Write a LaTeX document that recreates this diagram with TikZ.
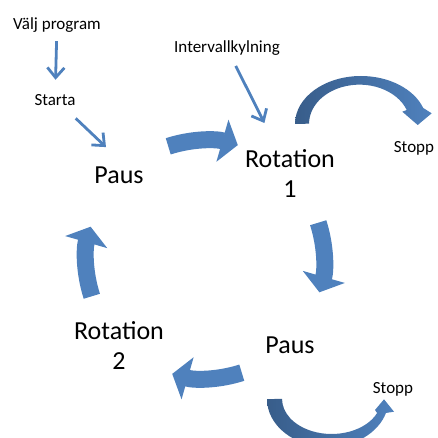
\documentclass[tikz,border=0pt]{standalone}
\usepackage{fontspec}
\setmainfont{Carlito}
\usepackage{xcolor}
\usetikzlibrary{arrows.meta, positioning, calc}
\definecolor{cycblue}{HTML}{4F81BD}
\definecolor{cycdark}{HTML}{385D8A}

\begin{document}
\begin{tikzpicture}[
    x=1pt, y=1pt,
    note/.style={font=\fontsize{17}{20}\selectfont, inner sep=0pt, anchor=base},
    phase/.style={font=\fontsize{26}{30}\selectfont, align=center, inner sep=0pt},
    thinarrow/.style={cycblue, line width=2.8pt, -{Straight Barb[length=10pt,width=17pt]}},
    cycarrow/.style={cycblue, line width=17pt, -{Triangle[length=16pt,width=43pt]}},
    stoparrow/.style={left color=cycdark, right color=cycblue}
]
\clip (0,0) rectangle (438,437);

% texts
\node[note] (valj) at (57,407) {Välj program};
\node[note] (starta) at (55,331) {Starta};
\node[note] (interval) at (227,384) {Intervallkylning};
\node[phase, anchor=base] (paus1) at (119,254) {Paus};
\node[phase] (rot1) at (290,263) {Rotation\\1};
\node[phase, anchor=base] (paus2) at (290,84) {Paus};
\node[phase] (rot2) at (119,91.5) {Rotation\\2};
\node[note] (stopp1) at (414,285) {Stopp};
\node[note] (stopp2) at (393,44) {Stopp};

\coordinate (hub) at (205,177.5);

% start arrows
\draw[thinarrow, shorten <=8pt, shorten >=15pt] (valj) -- (starta);
\draw[thinarrow] ([yshift=-12pt]starta.south east) -- ([shift={(-13pt,19pt)}]paus1.north);
\draw[thinarrow, shorten <=11pt, shorten >=30pt] (interval) -- (rot1);

% the cycle
\draw[cycarrow] ([shift={(108:119)}]hub) arc[start angle=108, end angle=74, radius=119];
\draw[cycarrow] ([shift={(18:119)}]hub) arc[start angle=18, end angle=-16, radius=119];
\draw[cycarrow] ([shift={(-72:119)}]hub) arc[start angle=-72, end angle=-106, radius=119];
\draw[cycarrow] ([shift={(198:119)}]hub) arc[start angle=198, end angle=164, radius=119];

% stop arrows
\shade[stoparrow] (295,313) arc[start angle=180, end angle=19.5, x radius=66, y radius=48]
    -- (431.7,323.7) -- (417.7,312) -- (402.3,325.3) -- (406.7,327)
    arc[start angle=20.5, end angle=180, x radius=50.4, y radius=39] -- cycle;
\shade[stoparrow] (267,38) arc[start angle=180, end angle=343.1, x radius=60.8, y radius=48]
    -- (394,25.3) -- (384,37.7) -- (375,27) -- (377.1,24)
    arc[start angle=336.4, end angle=180, x radius=49.6, y radius=35] -- cycle;

\end{tikzpicture}
\end{document}
